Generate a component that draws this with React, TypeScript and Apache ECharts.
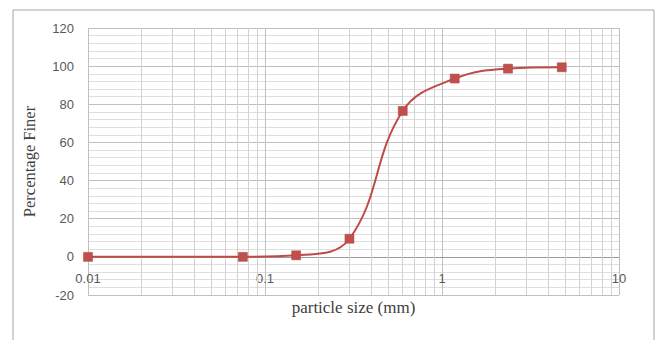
import React, { useEffect, useRef } from "react";
import * as echarts from "echarts";

const sizes = [0.01, 0.075, 0.15, 0.3, 0.6, 1.18, 2.36, 4.75];
const finer = [0, 0, 0.8, 9.5, 76.5, 93.5, 98.7, 99.4];
const yTicks = [-20, 0, 20, 40, 60, 80, 100, 120];
const decades = [0.01, 0.1, 1];
const minorSteps = [2, 3, 4, 5, 6, 7, 8, 9];

export default function App() {
  const ref = useRef<HTMLDivElement>(null);
  useEffect(() => {
    if (!ref.current) return;
    const chart = echarts.init(ref.current, null, { renderer: "svg" });
    const logMinors: number[] = [];
    decades.forEach((d) => minorSteps.forEach((m) => logMinors.push(+(d * m).toFixed(4))));
    const data = sizes.map((s, i) => [s, finer[i]]);
    chart.setOption({
      animation: false,
      backgroundColor: "#ffffff",
      grid: { left: 88, right: 37, top: 28, bottom: 45, containLabel: false, outerBoundsMode: "none" },
      graphic: [
        {
          type: "rect",
          shape: { x: 13, y: 10, width: 641, height: 340 },
          style: { fill: "none", stroke: "#a6a6a6", lineWidth: 1 },
          z: 0,
        },
      ],
      xAxis: {
        type: "log",
        logBase: 10,
        min: 0.01,
        max: 10,
        name: "particle size (mm)",
        nameLocation: "middle",
        nameGap: 4,
        nameTextStyle: { fontFamily: "Liberation Serif", fontSize: 17, color: "#404040" },
        axisLine: { onZero: true, lineStyle: { color: "#9a9a9a" } },
        axisTick: { show: false },
        axisLabel: {
          margin: -23,
          fontFamily: "Liberation Sans",
          fontSize: 13,
          color: "#595959",
          formatter: (v: number) => String(v),
        },
        splitLine: { show: true, lineStyle: { color: "#c0c0c0", width: 1 } },
      },
      yAxis: {
        type: "value",
        min: yTicks[0],
        max: yTicks[yTicks.length - 1],
        interval: 20,
        name: "Percentage Finer",
        nameLocation: "middle",
        nameGap: 50,
        nameTextStyle: { fontFamily: "Liberation Serif", fontSize: 16.5, color: "#404040" },
        axisLine: { show: false },
        axisTick: { show: false },
        axisLabel: { margin: 14, fontFamily: "Liberation Sans", fontSize: 13, color: "#595959" },
        splitLine: { show: true, lineStyle: { color: "#c0c0c0", width: 1 } },
        minorTick: { show: false, splitNumber: 5 },
        minorSplitLine: { show: true, lineStyle: { color: "#dedede", width: 1 } },
      },
      series: [
        {
          type: "line",
          data: data,
          symbol: "none",
          lineStyle: { opacity: 0 },
          silent: true,
          z: 1,
          markLine: {
            silent: true,
            symbol: "none",
            z: 1,
            label: { show: false },
            lineStyle: { color: "#d2d2d2", type: "solid", width: 1 },
            data: logMinors.map((v) => ({ xAxis: v })),
          },
        },
        {
          type: "line",
          data: data,
          smooth: 0.4,
          symbol: "rect",
          symbolSize: 9,
          z: 5,
          lineStyle: { color: "#be4b48", width: 2 },
          itemStyle: { color: "#c0504d", borderColor: "#b0413e", borderWidth: 0.5 },
        },
      ],
    });
    return () => chart.dispose();
  }, []);
  return (
    <div
      ref={ref}
      style={{ position: "absolute", left: 0, top: 0, width: 656, height: 340 }}
    />
  );
}
